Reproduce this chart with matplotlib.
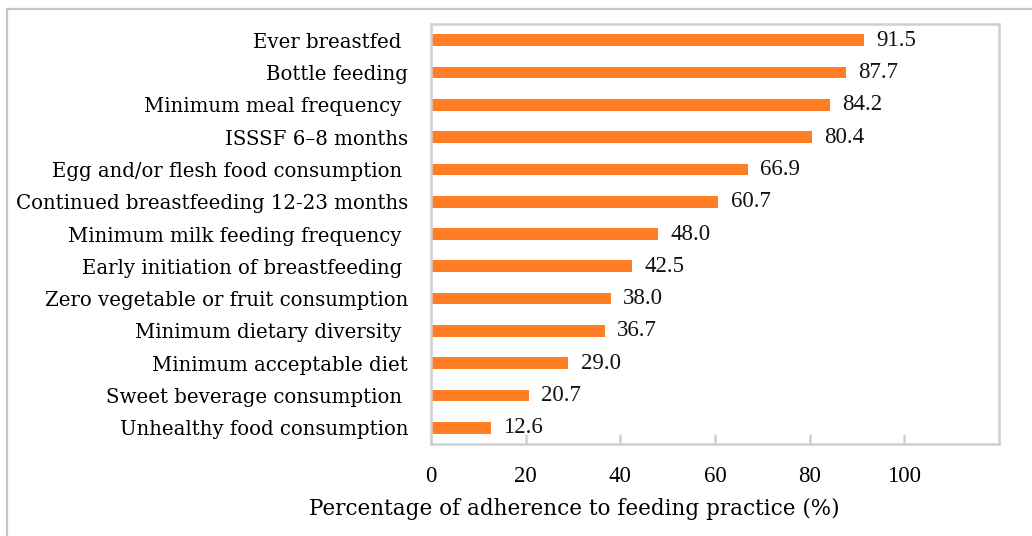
import matplotlib.pyplot as plt
from matplotlib.patches import Rectangle

# datos (de abajo hacia arriba)
practicas = [
    "Unhealthy food consumption",
    "Sweet beverage consumption ",
    "Minimum acceptable diet",
    "Minimum dietary diversity ",
    "Zero vegetable or fruit consumption",
    "Early initiation of breastfeeding ",
    "Minimum milk feeding frequency ",
    "Continued breastfeeding 12-23 months",
    "Egg and/or flesh food consumption ",
    "ISSSF 6\u20138 months",
    "Minimum meal frequency ",
    "Bottle feeding",
    "Ever breastfed ",
]
porcentajes = [12.6, 20.7, 29.0, 36.7, 38.0, 42.5, 48.0, 60.7, 66.9, 80.4, 84.2, 87.7, 91.5]
ticks_x = [0, 20, 40, 60, 80, 100]

plt.rcParams['font.family'] = ['DejaVu Serif']
fuente_num = 'Liberation Serif'
color_barra = '#FF7D24'
color_borde = '#D0D0D0'

fig = plt.figure(figsize=(10.32, 5.36), dpi=100)
ax = fig.add_axes([431/1032, 1 - 444/536, 568/1032, 420/536])

pos = range(len(practicas))
ax.barh(pos, porcentajes, height=0.36, color=color_barra)
for y, v in zip(pos, porcentajes):
    ax.text(v + 2.6, y, f"{v:.1f}", va='center', ha='left', fontsize=16.5,
            family=fuente_num, color='#111111')

ax.set_xlim(0, 120)
ax.set_ylim(-0.5, len(practicas) - 0.5)
ax.set_yticks(list(pos))
ax.set_yticklabels(practicas, fontsize=14.2)
ax.set_xticks(ticks_x)
ax.set_xticklabels([str(t) for t in ticks_x], fontsize=16.5, family=fuente_num)
ax.tick_params(axis='y', length=0, pad=16.5)
ax.tick_params(axis='x', direction='in', length=7, color=color_borde, width=1.8, pad=16)
for s in ax.spines.values():
    s.set_color(color_borde)
    s.set_linewidth(1.8)

fig.text(574/1032, 1 - 509/536, "Percentage of adherence to feeding practice (%)",
         ha='center', va='center', fontsize=15.5)

# marco exterior
fig.patches.append(Rectangle((7/1032, -0.1), 1.2, 1 - 9/536 + 0.1, transform=fig.transFigure,
                             fill=False, edgecolor='#C4C4C4', linewidth=1.6))

fig.savefig('out.png', dpi=100, facecolor='white')
